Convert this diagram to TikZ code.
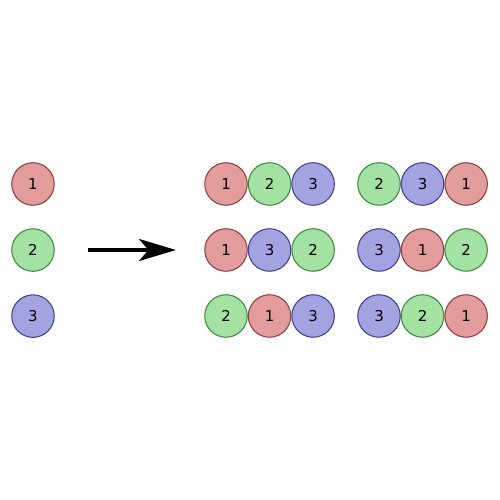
\documentclass[tikz,border=0pt]{standalone}
\usepackage{fontspec}
\setsansfont{DejaVu Sans}
\usepackage{tikz}
\usetikzlibrary{positioning,arrows.meta}
\definecolor{redfill}{HTML}{E39C9C}
\definecolor{redline}{HTML}{8A3F3F}
\definecolor{greenfill}{HTML}{A3E2A3}
\definecolor{greenline}{HTML}{3C8A3C}
\definecolor{bluefill}{HTML}{A3A3E2}
\definecolor{blueline}{HTML}{3F3F8E}

\begin{document}
\begin{tikzpicture}[
    ball/.style={circle, line width=0.6pt, minimum size=8.5mm, inner sep=0pt, font=\sffamily\fontsize{8.5}{9}\selectfont},
    b1/.style={ball, draw=redline, fill=redfill},
    b2/.style={ball, draw=greenline, fill=greenfill},
    b3/.style={ball, draw=blueline, fill=bluefill},
    arr/.style={-{Stealth[length=7.4mm, width=4.4mm, inset=1.9mm]}, line width=2.4pt}
]
    \useasboundingbox (0,0) rectangle (10,10);

    % the three single balls
    \node[b1] (in1) at (0.66,6.32) {1};
    \node[b2, below=4.5mm of in1] (in2) {2};
    \node[b3, below=4.5mm of in2] (in3) {3};

    % arrow
    \coordinate (arrS) at (1.76,5);
    \coordinate (arrE) at (3.52,5);
    \draw[arr] (arrS) -- (arrE);

    % all orderings
    \foreach \a/\b/\c/\d/\e/\f [count=\r] in {1/2/3/2/3/1, 1/3/2/3/1/2, 2/1/3/3/2/1} {
        \node[b\a] (p\r a) at (4.52,{6.32-(\r-1)*1.32}) {\a};
        \node[b\b, right=0mm of p\r a] (p\r b) {\b};
        \node[b\c, right=0mm of p\r b] (p\r c) {\c};
        \node[b\d] (q\r a) at (7.58,{6.32-(\r-1)*1.32}) {\d};
        \node[b\e, right=0mm of q\r a] (q\r b) {\e};
        \node[b\f, right=0mm of q\r b] (q\r c) {\f};
    }
\end{tikzpicture}
\end{document}
